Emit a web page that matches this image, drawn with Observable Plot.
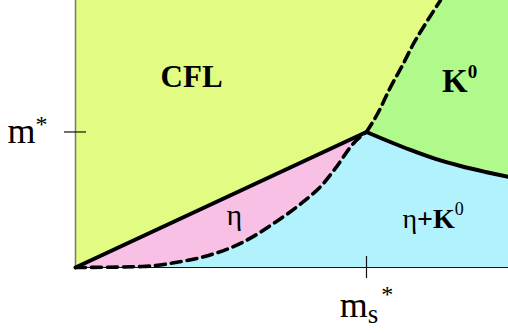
<!DOCTYPE html>
<html><head><meta charset="utf-8">
<script src="https://cdn.jsdelivr.net/npm/d3@7"></script>
<script src="https://cdn.jsdelivr.net/npm/@observablehq/plot@0.6"></script>
<style>body{margin:0;background:#fff}</style>
</head><body><div id="chart"></div>
<script>
// Axes: strange quark mass ms (units of ms*) and m (units of m*)
const xTicks = [1];
const yTicks = [1];
const xTickLabels = ["ms*"];
const yTickLabels = ["m*"];
const xMax = 1.488;
const yMax = 1.97;

// Phase boundaries
const lowerX = [0, 0.230, 0.344, 0.457, 0.574, 0.687, 0.780, 0.852, 0.893, 0.955, 1];
const lowerY = [0, 0.007, 0.037, 0.089, 0.185, 0.334, 0.480, 0.620, 0.731, 0.915, 1];
const lineX = [0, 1];
const lineY = [0, 1];
const upperX = [1, 1.031, 1.082, 1.127, 1.162, 1.210, 1.254];
const upperY = [1, 1.107, 1.328, 1.506, 1.653, 1.823, 1.970];
const rightX = [1, 1.082, 1.151, 1.237, 1.323, 1.409, 1.488];
const rightY = [1, 0.926, 0.867, 0.801, 0.749, 0.705, 0.668];

// Phase labels
const phaseNames = ["CFL", "K0", "η", "η+K0"];
const phaseX = [0.399, 1.320, 0.546, 1.229];
const phaseY = [1.404, 1.370, 0.384, 0.356];

const yellow = "#e2fb82", green = "#b0fa8c", pink = "#f8c0e4", cyan = "#b2f2fc";
const pts = (xs, ys) => xs.map((x, i) => ({x, y: ys[i]}));
const lower = pts(lowerX, lowerY), line = pts(lineX, lineY), upper = pts(upperX, upperY), right = pts(rightX, rightY);
const phases = phaseNames.map((t, i) => ({t, x: phaseX[i], y: phaseY[i]}));
const lineAt = x => lineY[0] + (x - lineX[0]) * (lineY[1] - lineY[0]) / (lineX[1] - lineX[0]);

const plot = Plot.plot({
  width: 508, height: 333,
  marginLeft: 75, marginRight: 0, marginTop: 0, marginBottom: 66,
  x: {domain: [0, xMax], label: null},
  y: {domain: [0, yMax], label: null},
  style: {fontFamily: "'Liberation Serif', 'Times New Roman', serif", background: "white", overflow: "visible", color: "black"},
  marks: [
    Plot.frame({fill: cyan, stroke: null}),
    Plot.areaY(right, {x: "x", y1: "y", y2: yMax, fill: green, curve: "monotone-x"}),
    Plot.areaY(line, {x: "x", y1: "y", y2: yMax, fill: yellow}),
    Plot.areaX(upper, {y: "y", x1: 0, x2: "x", fill: yellow, curve: "monotone-y"}),
    Plot.areaY(lower, {x: "x", y1: "y", y2: d => lineAt(d.x), fill: pink, curve: "monotone-x"}),
    Plot.ruleX([0], {stroke: "#777", strokeWidth: 1.5}),
    Plot.ruleY([0], {stroke: "#111", strokeWidth: 1.2}),
    Plot.line(line, {x: "x", y: "y", stroke: "black", strokeWidth: 4}),
    Plot.line(right, {x: "x", y: "y", stroke: "black", strokeWidth: 4, curve: "monotone-x"}),
    Plot.line(lower, {x: "x", y: "y", stroke: "black", strokeWidth: 3.6, strokeDasharray: "10,6", curve: "monotone-x"}),
    Plot.line(upper, {x: "x", y: "y", stroke: "black", strokeWidth: 3.6, strokeDasharray: "10,6", curve: "monotone-y"}),
    Plot.axisX({ticks: xTicks, tickSize: 22, dy: -11, tickFormat: () => "", label: null, stroke: "#111", strokeWidth: 1.2}),
    Plot.axisY({ticks: yTicks, tickSize: 22, dx: 11, tickFormat: () => "", label: null, stroke: "#111", strokeWidth: 1.2}),
    Plot.axisX({ticks: xTicks, tickFormat: d => xTickLabels[xTicks.indexOf(d)], tickSize: 0, tickPadding: 24, fontSize: 36, label: null}),
    Plot.axisY({ticks: yTicks, tickFormat: d => yTickLabels[yTicks.indexOf(d)], tickSize: 0, tickPadding: 28, fontSize: 36, label: null}),
    Plot.text(phases, {x: "x", y: "y", text: "t", ariaLabel: "phase labels"})
  ]
});

const richSpecs = {
  "m*": {size: 36, parts: [{t: "m"}, {t: "*", size: 24, dy: -11}]},
  "ms*": {size: 36, parts: [{t: "m"}, {t: "s", size: 27, dy: 6}, {t: "*", size: 24, dy: -21, dx: 3}]},
  "CFL": {size: 31, weight: "bold", parts: [{t: "CFL"}]},
  "K0": {size: 33, weight: "bold", parts: [{t: "K"}, {t: "0", size: 19, dy: -14}]},
  "η": {size: 30, parts: [{t: "η"}]},
  "η+K0": {size: 28, parts: [{t: "η"}, {t: "+", weight: "bold"}, {t: "K", weight: "bold"}, {t: "0", size: 18, dy: -13}]}
};
d3.select(plot).selectAll("text").each(function() {
  const spec = richSpecs[this.textContent];
  if (!spec) return;
  const el = d3.select(this).text(null).attr("font-size", spec.size);
  if (spec.weight) el.attr("font-weight", spec.weight);
  for (const p of spec.parts) {
    const ts = el.append("tspan").text(p.t);
    if (p.size) ts.attr("font-size", p.size);
    if (p.weight) ts.attr("font-weight", p.weight);
    if (p.dy) ts.attr("dy", p.dy);
    if (p.dx) ts.attr("dx", p.dx);
  }
});
document.getElementById("chart").append(plot);
</script>
</body></html>
